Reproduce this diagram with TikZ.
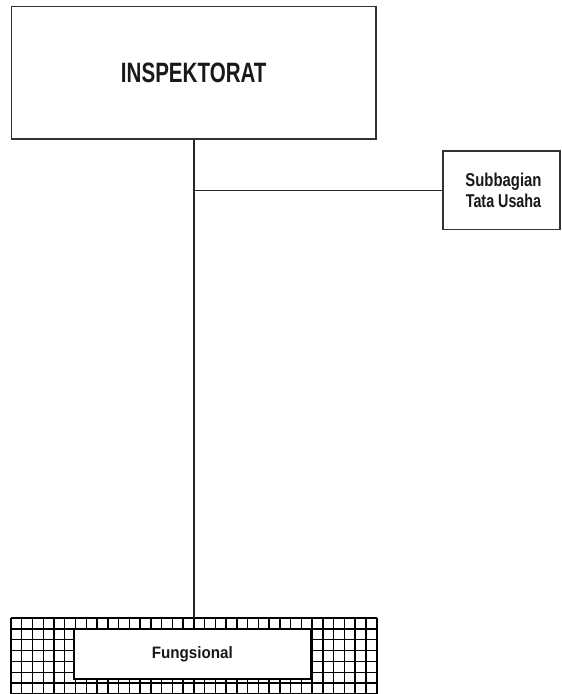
\documentclass[tikz,border=0pt]{standalone}
\usepackage{fontspec}
\setmainfont{Liberation Sans}
\newcommand{\sqz}[2]{\scalebox{#1}[1]{#2}}
\begin{document}
\begin{tikzpicture}[x=1pt,y=-1pt,
  orgbox/.style={draw=black!80, line width=1.3pt, fill=white, inner sep=0pt, text=black!90},
  conn/.style={draw=black!85, line width=1.2pt},
  gridln/.style={draw=black, line width=1.4pt}]
\useasboundingbox (0,0) rectangle (562,694);
\fill[white] (0,0) rectangle (562,694);
% top box
\node[orgbox, minimum width=364.5pt, minimum height=132.5pt, font=\bfseries\fontsize{28}{30}\selectfont] (insp) at (193.75,72.75) {\sqz{0.735}{INSPEKTORAT}};
% subbagian box
\node[orgbox, minimum width=117pt, minimum height=78.3pt, align=center, font=\bfseries\fontsize{18.6}{21.7}\selectfont] (sub) at (501.5,190.2) {\hspace*{4pt}\sqz{0.8}{Subbagian}\\\hspace*{4pt}\sqz{0.77}{Tata Usaha}};
% grid region
\node[inner sep=0pt, minimum width=365.7pt, minimum height=76pt] (fgrid) at (193.85,656) {};
\begin{scope}
\clip (0,0) rectangle (562,694);
\foreach \i in {0,...,34} {
  \draw[gridln] ({11+\i*10.756},618) -- ({11+\i*10.756},694);
}
\foreach \j in {0,...,7} {
  \draw[gridln] (11,{618+\j*10.85}) -- (376.7,{618+\j*10.85});
}
\draw[gridln, line width=1.8pt] (376.7,618) -- (376.7,694);
\end{scope}
% inner fungsional box
\node[orgbox, draw=black, line width=1.3pt, minimum width=236.7pt, minimum height=50pt, font=\bfseries\fontsize{16.5}{18}\selectfont] (fung) at (192.35,654) {\sqz{0.92}{Fungsional}};
% connectors
\coordinate (j) at (194,190.7);
\draw[conn] (insp.south -| j) -- (fgrid.north -| j);
\draw[conn] (j) -- (j -| sub.west);
\end{tikzpicture}
\end{document}
